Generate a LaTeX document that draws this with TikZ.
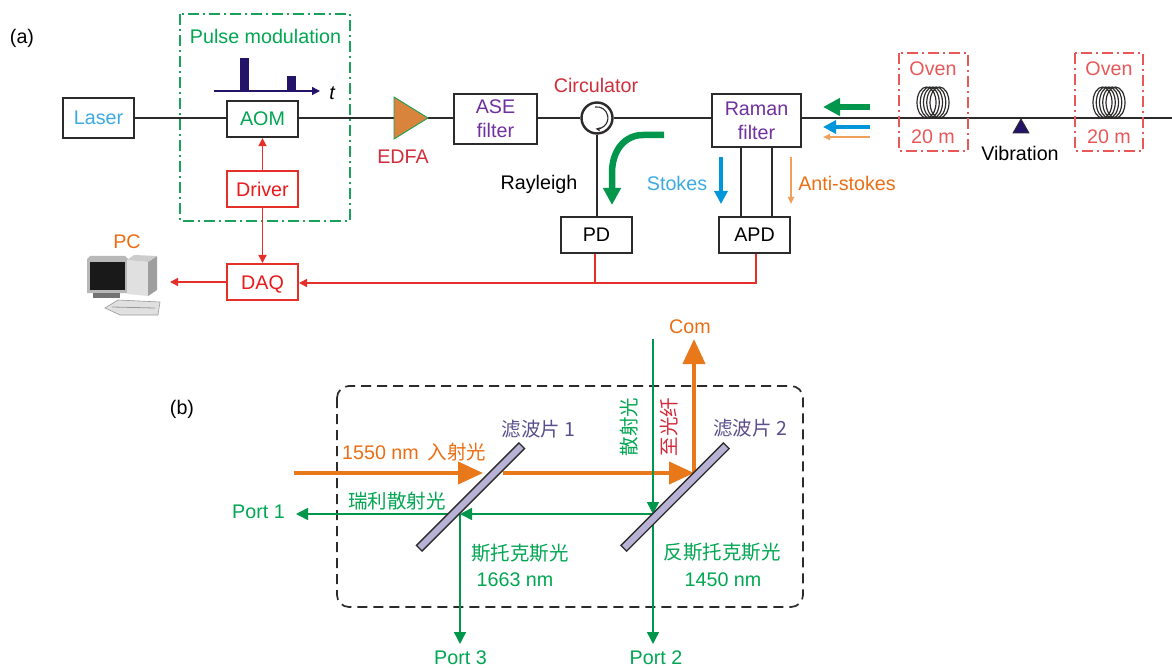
\documentclass[tikz,border=0pt]{standalone}
\usepackage{fontspec}
\setmainfont{Liberation Sans}
\newfontfamily\cjk{Noto Sans CJK SC}
\usepackage{tikz}
\usetikzlibrary{arrows.meta, positioning, calc}
\usepackage{xcolor}
\definecolor{fiberdark}{RGB}{45,42,42}
\definecolor{pulsegreen}{RGB}{0,166,81}
\definecolor{beamgreen}{RGB}{0,150,75}
\definecolor{framegreen}{RGB}{25,160,90}
\definecolor{pumporange}{RGB}{232,120,25}
\definecolor{textorange}{RGB}{235,110,20}
\definecolor{paleorange}{RGB}{240,160,90}
\definecolor{edfaorange}{RGB}{217,132,60}
\definecolor{sigred}{RGB}{228,48,40}
\definecolor{brightred}{RGB}{235,25,25}
\definecolor{ovenred}{RGB}{232,88,88}
\definecolor{crimson}{RGB}{208,45,60}
\definecolor{rampurple}{RGB}{112,48,160}
\definecolor{filtpurple}{RGB}{90,78,140}
\definecolor{filtfill}{RGB}{184,178,214}
\definecolor{skyblue}{RGB}{60,170,225}
\definecolor{arrowblue}{RGB}{0,150,218}
\definecolor{pulsenavy}{RGB}{35,20,105}
\newcommand{\lblfont}{\fontsize{19.7}{24}\selectfont}
\newcommand{\cjkfont}{\cjk\fontsize{19.5}{22}\selectfont}

\begin{document}
\begin{tikzpicture}[
  x=1pt, y=-1pt,
  box/.style={draw=fiberdark, fill=white, line width=2.2pt, minimum width=71pt,
              minimum height=36pt, inner sep=0pt, font=\lblfont, align=center},
  thinbox/.style={box, line width=1.6pt},
  redbox/.style={box, draw=sigred, text=brightred, line width=2pt},
  lbl/.style={font=\lblfont, inner sep=0pt, align=center, yshift=-1pt},
  cjklbl/.style={font=\cjkfont, inner sep=0pt},
  fiber/.style={draw=fiberdark, line width=2pt},
  sig/.style={draw=sigred, line width=1.4pt},
  sigarr/.style={sig, -{Triangle[length=8pt, width=8pt]}},
  beam/.style={draw=beamgreen, line width=1.5pt},
  beamarr/.style={beam, -{Triangle[length=12pt, width=12pt]}},
  pump/.style={draw=pumporange, line width=4pt},
  pumparr/.style={pump, -{Triangle[length=25pt, width=22pt]}},
  dashdot/.style={line width=1.6pt, dash pattern=on 11pt off 4pt on 2pt off 4pt},
  filterbar/.style={draw=fiberdark, fill=filtfill, line width=1.3pt, rotate=45,
                    minimum width=145pt, minimum height=8pt, inner sep=0pt},
]
  \useasboundingbox (0,0) rectangle (1172,668);

  \node[lbl] (alabel) at (22,37) {(a)};
  \node[lbl] (blabel) at (182,408) {(b)};

  % Pulse modulation
  \draw[framegreen, dashdot] (180,14) rectangle (350,221);
  \node[lbl, text=pulsegreen] (pulselbl) at (265.5,35) {Pulse modulation};
  \coordinate (taxis) at (214,91);
  \coordinate (ttip) at (320,91);
  \node[lbl, font=\lblfont\itshape] (tlbl) at (332,92) {t};
  \draw[pulsenavy, line width=1.3pt, -{Triangle[length=8pt, width=8pt]}] (taxis) -- (ttip);
  \fill[pulsenavy] (240,58) rectangle (249,91);
  \fill[pulsenavy] (287,76) rectangle (296,91);

  % Main fiber
  \node[box, minimum height=40pt, text=skyblue] (laser) at (98.5,118) {Laser};
  \node[box, text=pulsegreen] (aom) at (262.5,119) {AOM};
  \node[redbox] (driver) at (262.5,189.5) {Driver};
  \node[redbox, text depth=0pt, text height=14pt] (daq) at (262.5,282) {DAQ};
  \coordinate (edfain) at (394,118);
  \coordinate (edfaout) at (428,118);
  \node[thinbox, minimum width=83pt, minimum height=50pt, text=rampurple] (ase) at (495.5,119) {ASE\\filter};
  \node[circle, draw=fiberdark, fill=white, line width=2.4pt, minimum size=31pt, inner sep=0pt] (circ) at (597,118) {};
  \node[thinbox, minimum width=89pt, minimum height=53pt, text=rampurple] (raman) at (756.5,120.5) {Raman\\filter};
  \node[box, line width=1.9pt] (pd) at (596.5,235) {PD};
  \node[box, line width=1.9pt] (apd) at (754.5,235) {APD};
  \coordinate (fiberend) at (1172,118);

  \draw[fiber] (laser) -- (aom.west |- laser);
  \draw[fiber] (aom.east |- edfain) -- (edfain);
  \draw[fiber] (edfaout) -- (ase.west |- edfaout);
  \draw[fiber] (ase.east |- circ) -- (circ.west);
  \draw[fiber] (circ.east) -- (raman.west |- circ);
  \draw[fiber] (raman.east |- fiberend) -- (fiberend);
  \draw[fiber] (circ.south) -- (circ |- pd.north);
  \draw[fiber] (741,147) -- (741,217);
  \draw[fiber] (772,147) -- (772,217);
  \draw[fiberdark, line width=1.1pt, -{Stealth[length=5pt, width=4.5pt]}]
    ([shift={(-2,-11)}]circ.center) arc[start angle=-100, end angle=97, radius=11];

  % EDFA
  \path[fill=edfaorange, draw=framegreen, line width=0.9pt]
    (394,97) -- (428,118) -- (394,139) -- cycle;
  \node[lbl, text=crimson] (edfalbl) at (403,156) {EDFA};

  % Driver and acquisition
  \draw[sigarr] (driver) -- (aom);
  \draw[sigarr] (driver) -- (daq);
  \coordinate (pcport) at (170,282);
  \coordinate (pdjoin) at (595,283);
  \coordinate (apdjoin) at (756,283);
  \draw[sigarr] (daq) -- (pcport);
  \draw[sigarr] (apd.south -| apdjoin) -- (apdjoin) -- (daq.east |- apdjoin);
  \draw[sig] (pd.south -| pdjoin) -- (pdjoin);

  % Labels
  \node[lbl, text=crimson] (circlbl) at (596,84) {Circulator};
  \node[lbl] (raylbl) at (539,183) {Rayleigh};
  \node[lbl, text=skyblue] (stokeslbl) at (677,182) {Stokes};
  \node[lbl, text=textorange] (antilbl) at (847,182) {Anti-stokes};
  \node[lbl, text=textorange] (pclbl) at (127,241) {PC};

  % Back-scattered light
  \coordinate (raystart) at (664,135);
  \coordinate (rayend) at (612,205);
  \draw[beamgreen, line width=6.5pt, -{Triangle[length=17pt, width=17pt]}]
    (raystart) -- (643,135) .. controls (625,135) and (612,150) .. (612,173) -- (rayend);
  \coordinate (stokesa) at (721,157);
  \coordinate (stokesb) at (721,204);
  \draw[arrowblue, line width=4.7pt, -{Triangle[length=13pt, width=13pt]}] (stokesa) -- (stokesb);
  \coordinate (antia) at (791,157);
  \coordinate (antib) at (791,204);
  \draw[paleorange, line width=1.8pt, -{Triangle[length=7pt, width=6pt]}] (antia) -- (antib);
  \coordinate (ga) at (870,107);
  \coordinate (gb) at (823,107);
  \draw[beamgreen, line width=6.5pt, -{Triangle[length=17pt, width=17pt]}] (ga) -- (gb);
  \coordinate (ba) at (870,127);
  \coordinate (bb) at (823,127);
  \draw[arrowblue, line width=4.7pt, -{Triangle[length=13pt, width=13pt]}] (ba) -- (bb);
  \coordinate (oa) at (870,137);
  \coordinate (ob) at (823,137);
  \draw[paleorange, line width=1.8pt, -{Triangle[length=7pt, width=6pt]}] (oa) -- (ob);

  % Ovens
  \draw[ovenred, dashdot] (899,53) rectangle (968,151);
  \draw[ovenred, dashdot] (1075,53) rectangle (1143,151);
  \node[lbl, text=ovenred] (oven1) at (933,68) {Oven};
  \node[lbl, text=ovenred] (len1) at (933,136) {20 m};
  \node[lbl, text=ovenred] (oven2) at (1109,68) {Oven};
  \node[lbl, text=ovenred] (len2) at (1109,136) {20 m};
  \foreach \cx in {933,1109}
    \foreach \dx in {-6.5,-3.25,0,3.25,6.5}
      \draw[fiberdark, line width=1.2pt] (\cx+\dx,102.5) ellipse [x radius=9.5, y radius=15.5];
  \path[fill=pulsenavy, draw=fiberdark, line width=0.8pt] (1021,119) -- (1029,133) -- (1013,133) -- cycle;
  \node[lbl] (vibration) at (1020,152) {Vibration};

  % PC
  \fill[black!28] (87,259) -- (90,256) -- (125,256) -- (128,259) -- (128,293) -- (87,293) -- cycle;
  \fill[black!90] (90,262) rectangle (125,290);
  \fill[black!55] (93,293) rectangle (120,298);
  \fill[black!12] (127,260) -- (148,262) -- (148,296) -- (127,294) -- cycle;
  \fill[black!38] (148,262) -- (157,256) -- (157,290) -- (148,296) -- cycle;
  \fill[black!20] (127,260) -- (134,255) -- (157,256) -- (148,262) -- cycle;
  \fill[black!12, draw=black!40, line width=0.6pt] (105,308) -- (118,300) -- (160,302) -- (158,315) -- (120,315) -- cycle;
  \draw[black!40, line width=0.8pt] (112,307) -- (155,308);

  % (b) filter box
  \draw[fiberdark, line width=1.7pt, rounded corners=12pt, dash pattern=on 10pt off 6pt]
    (337,386) rectangle (803,607);

  % Beams
  \coordinate (inbeam) at (294,473);
  \coordinate (tipone) at (483,473);
  \coordinate (outbeam) at (503,473);
  \coordinate (turn) at (694,473);
  \coordinate (comtip) at (694,339);
  \draw[pumparr] (inbeam) -- (tipone);
  \draw[pumparr] (outbeam) -- (turn);
  \draw[pumparr] (turn) -- (comtip);

  \node[lbl, text=pulsegreen] (port1) at (258.5,511) {Port 1};
  \node[lbl, text=pulsegreen] (port3) at (460.5,657) {Port 3};
  \node[lbl, text=pulsegreen] (port2) at (656,657) {Port 2};
  \node[lbl, text=textorange] (com) at (690,326) {Com};
  \coordinate (topbeam) at (653,339);
  \coordinate (splitb) at (653,514);
  \coordinate (splita) at (460,514);
  \draw[beamarr] (topbeam) -- (splitb);
  \draw[beamarr] (splitb) -- (653,644);
  \draw[beamarr] (splitb) -- (splita);
  \draw[beamarr] (splita) -- (296,514);
  \draw[beamarr] (splita) -- (460,644);

  % Filters
  \node[filterbar] (filt1) at (470.5,497) {};
  \node[filterbar] (filt2) at (675,497) {};

  % Texts of (b)
  \node[lbl, text=textorange, anchor=west] (inlbl) at (342,451) {1550 nm\hspace{0.45em}{\cjkfont 入射光}};
  \node[cjklbl, text=pulsegreen, anchor=west] (raylbl2) at (348,501) {瑞利散射光};
  \node[cjklbl, text=filtpurple] (f1lbl) at (538.5,429) {滤波片 1};
  \node[cjklbl, text=filtpurple] (f2lbl) at (750,428) {滤波片 2};
  \node[cjklbl, text=pulsegreen] (stoklbl) at (520,553) {斯托克斯光};
  \node[lbl, text=pulsegreen] (stoknm) at (515,579) {1663 nm};
  \node[cjklbl, text=pulsegreen] (antistlbl) at (722,552) {反斯托克斯光};
  \node[lbl, text=pulsegreen] (antinm) at (723,579) {1450 nm};
  \node[cjklbl, text=pulsegreen, rotate=90] (scatlbl) at (629,427) {散射光};
  \node[cjklbl, text=crimson, rotate=90] (tofiber) at (669,427) {至光纤};
\end{tikzpicture}
\end{document}
